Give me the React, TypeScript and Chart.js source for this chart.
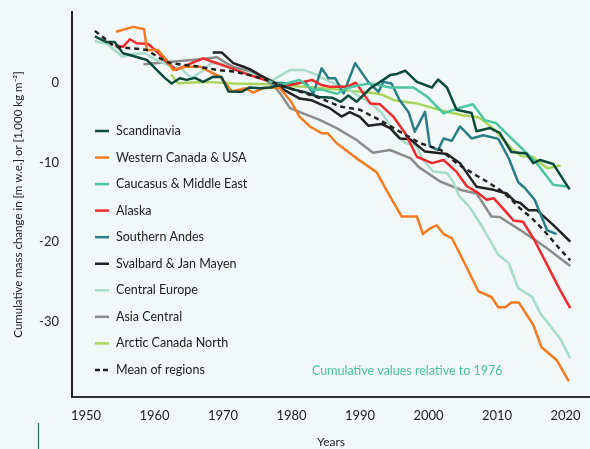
import React, { useEffect, useRef } from "react";
import { Chart, registerables } from "chart.js";

Chart.register(...registerables);

// ---------- data ----------
const xTickYears = [1950, 1960, 1970, 1980, 1990, 2000, 2010, 2020];
const yTickValues = [0, -10, -20, -30];

const scandinaviaYears = [1951.3, 1953.0, 1954.2, 1955.4, 1956.9, 1958.9, 1960.1, 1961.5, 1962.5, 1963.7, 1964.7, 1965.9, 1967.1, 1968.6, 1969.8, 1970.8, 1972.7, 1973.9, 1975.4, 1976.9, 1978.3, 1980.0, 1982.0, 1984.0, 1986.0, 1987.2, 1988.3, 1989.5, 1991.5, 1993.4, 1994.4, 1995.4, 1996.6, 1998.3, 2000.5, 2001.4, 2002.7, 2004.1, 2006.3, 2007.0, 2009.0, 2010.4, 2012.1, 2014.3, 2015.3, 2016.3, 2018.2, 2020.6];
const scandinaviaValues = [5.8, 5.1, 5.1, 3.7, 3.35, 2.85, 1.8, 0.6, -0.1, 0.55, 0.35, 0.6, 0.1, 0.75, 0.7, -1.1, -1.15, -0.6, -0.7, -0.6, -0.3, -0.8, -1.2, -1.8, -1.9, -2.4, -1.6, -2.4, -0.7, 0.35, 0.95, 1.1, 1.5, 0.1, -0.6, 0.4, -0.6, -3.4, -3.8, -6.1, -5.7, -6.3, -8.7, -8.9, -10.1, -9.7, -10.2, -13.4];

const westernCanadaYears = [1954.4, 1956.9, 1958.5, 1958.9, 1960.5, 1961.8, 1962.7, 1964.5, 1966.6, 1968.5, 1969.6, 1971.3, 1973.3, 1974.4, 1975.8, 1977.3, 1978.3, 1979.8, 1981.2, 1982.7, 1984.4, 1985.3, 1986.6, 1989.5, 1992.4, 1994.4, 1996.1, 1998.3, 1999.2, 2000.2, 2001.2, 2002.2, 2003.4, 2005.3, 2007.3, 2009.2, 2010.2, 2011.2, 2012.1, 2013.2, 2015.3, 2016.5, 2018.7, 2020.5];
const westernCanadaValues = [6.4, 7.0, 6.7, 4.1, 4.1, 2.8, 1.6, 2.0, 2.0, 1.2, 0.75, -1.1, -0.7, -1.25, -0.7, -0.6, -0.7, -2.2, -4.3, -5.5, -6.35, -6.35, -7.6, -9.5, -11.2, -14.3, -16.8, -16.8, -19.0, -18.3, -17.9, -19.0, -19.5, -22.7, -26.2, -26.9, -28.2, -28.2, -27.6, -27.6, -30.4, -33.2, -34.8, -37.5];

const caucasusYears = [1976.4, 1978.3, 1980.3, 1981.2, 1983.1, 1984.6, 1986.6, 1988.1, 1990.0, 1991.5, 1994.4, 1997.8, 1999.8, 2002.2, 2004.4, 2006.5, 2008.2, 2009.9, 2011.9, 2014.1, 2015.8, 2018.2, 2020.4];
const caucasusValues = [0.3, -0.3, 0.15, 0.35, -0.9, -0.9, -1.4, -0.7, -0.3, -0.1, -0.6, -0.6, -1.75, -3.85, -3.2, -2.7, -4.7, -5.1, -6.8, -8.65, -10.1, -12.8, -13.05];

const alaskaYears = [1954.2, 1955.4, 1956.4, 1957.4, 1959.1, 1960.6, 1962.0, 1963.2, 1964.7, 1967.1, 1968.6, 1971.3, 1973.9, 1977.3, 1978.8, 1980.8, 1983.0, 1984.4, 1985.6, 1988.1, 1989.4, 1991.5, 1992.9, 1994.9, 1996.6, 1998.3, 2000.5, 2002.2, 2004.1, 2005.6, 2007.0, 2008.5, 2009.5, 2010.9, 2012.4, 2013.8, 2015.3, 2017.7, 2019.2, 2020.7];
const alaskaValues = [4.7, 4.5, 5.45, 4.95, 4.85, 3.7, 2.4, 1.6, 2.2, 3.05, 2.6, 1.8, 0.95, 0.0, -0.5, -0.1, 0.35, -0.3, -0.5, -0.5, 0.0, -2.6, -2.7, -4.3, -6.35, -9.3, -10.1, -9.7, -11.2, -13.0, -13.7, -14.7, -14.5, -15.8, -17.3, -17.45, -19.5, -23.5, -26.0, -28.3];

const southernAndesYears = [1977.3, 1980.5, 1982.0, 1983.2, 1984.4, 1985.4, 1986.4, 1987.6, 1989.3, 1991.2, 1992.7, 1993.4, 1994.6, 1995.8, 1997.1, 1998.0, 1999.5, 2000.2, 2001.4, 2002.2, 2003.4, 2004.6, 2006.3, 2008.0, 2010.2, 2011.7, 2013.1, 2014.1, 2015.5, 2017.3, 2018.7];
const southernAndesValues = [0.0, -0.15, 0.1, -1.35, 1.8, 0.55, 0.55, -1.35, 2.45, 0.1, -1.15, 0.1, -0.1, -2.2, -3.7, -6.15, -3.65, -7.95, -8.45, -7.0, -7.3, -5.5, -7.0, -6.6, -7.05, -9.45, -12.5, -13.25, -14.7, -18.5, -19.0];

const svalbardYears = [1968.5, 1969.8, 1971.5, 1973.0, 1973.9, 1975.4, 1977.3, 1979.3, 1981.2, 1982.9, 1984.2, 1985.6, 1987.3, 1988.5, 1990.0, 1991.2, 1993.2, 1994.4, 1995.8, 1997.3, 1999.5, 2002.7, 2004.6, 2007.0, 2009.5, 2011.4, 2012.6, 2013.4, 2014.6, 2015.8, 2018.2, 2020.7];
const svalbardValues = [3.8, 3.8, 2.45, 2.0, 1.7, 0.95, 0.1, -1.1, -2.0, -2.2, -2.7, -3.2, -4.25, -3.7, -4.3, -5.4, -5.2, -5.7, -7.0, -7.1, -8.65, -8.95, -10.1, -13.05, -13.45, -13.9, -14.9, -15.1, -16.0, -16.0, -17.85, -19.95];

const centralEuropeYears = [1951.3, 1953.1, 1955.3, 1956.9, 1958.6, 1960.2, 1962.3, 1964.0, 1965.4, 1966.9, 1968.3, 1969.6, 1971.5, 1973.9, 1975.4, 1977.3, 1979.8, 1981.8, 1983.9, 1985.6, 1988.1, 1990.0, 1991.5, 1993.2, 1995.0, 1996.6, 1998.3, 1999.2, 2000.7, 2002.7, 2003.6, 2004.4, 2006.3, 2007.8, 2010.2, 2011.7, 2013.1, 2015.1, 2016.3, 2017.3, 2019.2, 2020.7];
const centralEuropeValues = [5.2, 4.85, 3.25, 3.6, 3.7, 2.85, 2.1, 1.7, 0.55, 1.4, 2.45, 2.45, 1.6, 1.2, 0.55, 0.35, 1.6, 1.6, 0.9, 0.1, -0.7, -1.8, -2.55, -3.8, -6.15, -7.55, -8.0, -9.7, -11.15, -11.35, -12.4, -14.1, -15.95, -18.05, -21.6, -22.65, -25.8, -26.85, -28.9, -30.0, -32.1, -34.6];

const asiaCentralYears = [1958.4, 1966.6, 1969.1, 1970.5, 1971.5, 1973.9, 1975.4, 1977.3, 1978.3, 1979.8, 1981.7, 1984.2, 1986.6, 1989.5, 1991.9, 1994.4, 1997.4, 1998.6, 2001.7, 2004.9, 2007.0, 2009.2, 2010.4, 2013.4, 2017.0, 2020.7];
const asiaCentralValues = [2.3, 2.95, 3.2, 2.45, 2.0, 1.4, 0.75, -0.3, -1.3, -3.2, -3.85, -4.7, -5.7, -7.2, -8.8, -8.45, -9.5, -10.6, -12.4, -13.5, -13.9, -16.8, -16.85, -18.5, -20.6, -23.0];

const arcticCanadaYears = [1962.4, 1963.5, 1964.7, 1967.6, 1971.5, 1976.4, 1978.3, 1982.2, 1987.1, 1991.9, 1993.4, 1994.9, 1998.3, 2000.7, 2002.7, 2005.0, 2007.3, 2008.5, 2010.0, 2012.1, 2013.6, 2015.2, 2017.3, 2019.3];
const arcticCanadaValues = [1.0, -0.1, 0.0, 0.1, -0.1, -0.2, -0.4, -0.5, -0.9, -1.3, -1.55, -2.2, -2.6, -3.2, -3.65, -4.1, -4.35, -5.1, -6.2, -8.25, -9.25, -9.3, -10.75, -10.4];

const meanYears = [1951.3, 1952.5, 1954.2, 1956.9, 1958.9, 1960.8, 1962.3, 1964.7, 1966.6, 1969.1, 1971.5, 1973.9, 1976.4, 1978.3, 1981.2, 1984.2, 1987.1, 1990.0, 1992.9, 1995.8, 1998.8, 2001.8, 2004.1, 2006.5, 2008.5, 2010.4, 2011.9, 2013.4, 2015.1, 2016.8, 2018.7, 2020.7];
const meanValues = [6.5, 5.7, 4.5, 4.3, 4.1, 3.05, 2.45, 2.2, 2.0, 1.6, 1.4, 0.95, 0.35, -0.3, -1.1, -1.95, -3.0, -3.4, -4.7, -6.15, -7.6, -8.45, -10.1, -11.4, -12.4, -13.45, -14.5, -15.8, -17.0, -18.5, -20.4, -22.3];

const seriesLabels = [
  "Scandinavia",
  "Western Canada & USA",
  "Caucasus & Middle East",
  "Alaska",
  "Southern Andes",
  "Svalbard & Jan Mayen",
  "Central Europe",
  "Asia Central",
  "Arctic Canada North",
  "Mean of regions",
];
const seriesColors = [
  "#0c4a3c",
  "#f47b20",
  "#4cc6a0",
  "#ee2a2f",
  "#2b7d87",
  "#222222",
  "#a7dcc9",
  "#8c8c8c",
  "#a9d55b",
  "#222222",
];
const seriesYears = [scandinaviaYears, westernCanadaYears, caucasusYears, alaskaYears, southernAndesYears, svalbardYears, centralEuropeYears, asiaCentralYears, arcticCanadaYears, meanYears];
const seriesValues = [scandinaviaValues, westernCanadaValues, caucasusValues, alaskaValues, southernAndesValues, svalbardValues, centralEuropeValues, asiaCentralValues, arcticCanadaValues, meanValues];

const FONT = "Lato, 'Noto Sans', sans-serif";
const TEXT = "#222222";
const BG = "#f1f8f7";

const insideLegend = {
  id: "insideLegend",
  afterDraw(chart: any) {
    const { ctx, chartArea } = chart;
    ctx.save();
    const x0 = chartArea.left + 23;
    const x1 = chartArea.left + 37;
    const tx = chartArea.left + 44;
    const y0 = chartArea.top + 119;
    const step = 26.55;
    ctx.font = `12.5px ${FONT}`;
    ctx.textBaseline = "middle";
    ctx.textAlign = "left";
    chart.data.datasets.forEach((ds: any, i: number) => {
      const y = y0 + i * step;
      ctx.strokeStyle = ds.borderColor;
      ctx.lineWidth = 2.5;
      ctx.setLineDash(ds.borderDash && ds.borderDash.length ? [5, 3] : []);
      ctx.beginPath();
      ctx.moveTo(x0, y);
      ctx.lineTo(x1, y);
      ctx.stroke();
      ctx.setLineDash([]);
      ctx.fillStyle = TEXT;
      ctx.fillText(ds.label, tx, y);
    });
    // note
    ctx.fillStyle = "#4cc49c";
    ctx.font = `12.5px ${FONT}`;
    ctx.fillText("Cumulative values relative to 1976", chartArea.left + 240, chartArea.top + 359);
    // small decorative mark
    ctx.strokeStyle = "#2d6e69";
    ctx.lineWidth = 1.2;
    ctx.beginPath();
    ctx.moveTo(38.5, 423);
    ctx.lineTo(38.5, chart.height);
    ctx.stroke();
    ctx.restore();
  },
};

export default function App() {
  const ref = useRef<HTMLCanvasElement>(null);
  useEffect(() => {
    document.body.style.margin = "0";
    document.body.style.background = BG;
    const canvas = ref.current!;
    const datasets = seriesLabels.map((label, i) => ({
      label,
      data: seriesYears[i].map((yr, j) => ({ x: yr, y: seriesValues[i][j] })),
      borderColor: seriesColors[i],
      backgroundColor: seriesColors[i],
      borderWidth: 2.5,
      borderDash: i === seriesLabels.length - 1 ? [5, 4] : [],
      pointRadius: 0,
      tension: 0,
      fill: false,
      borderJoinStyle: "round" as const,
      order: i === seriesLabels.length - 1 ? 0 : 1,
    }));
    const chart = new Chart(canvas, {
      type: "line",
      data: { datasets },
      options: {
        animation: false,
        responsive: false,
        maintainAspectRatio: false,
        layout: { padding: { top: 12, left: 0, right: 0, bottom: 0 } },
        plugins: { legend: { display: false }, tooltip: { enabled: false } },
        scales: {
          x: {
            type: "linear",
            min: 1947.96,
            max: 2023.58,
            grid: { display: false, drawTicks: false },
            border: { display: true, color: "#333333", width: 2 },
            afterBuildTicks: (scale: any) => {
              scale.ticks = xTickYears.map((v) => ({ value: v }));
            },
            afterFit: (scale: any) => {
              scale.height = 52;
              scale.paddingLeft = 0;
              scale.paddingRight = 0;
            },
            ticks: {
              color: TEXT,
              font: { family: FONT, size: 13 },
              padding: 11,
              maxRotation: 0,
              autoSkip: false,
              callback: (v: any) => String(v),
            },
            title: {
              display: true,
              text: "Years",
              color: TEXT,
              font: { family: FONT, size: 12 },
              padding: { top: 0, bottom: 0 },
            },
          },
          y: {
            type: "linear",
            min: -39.45,
            max: 8.87,
            grid: { display: false, drawTicks: false },
            border: { display: true, color: "#222222", width: 2 },
            afterBuildTicks: (scale: any) => {
              scale.ticks = yTickValues.map((v) => ({ value: v }));
            },
            afterFit: (scale: any) => {
              scale.width = 72;
              scale.paddingTop = 0;
              scale.paddingBottom = 0;
            },
            ticks: {
              color: TEXT,
              font: { family: FONT, size: 13 },
              padding: 13,
              autoSkip: false,
              callback: (v: any) => String(v),
            },
            title: {
              display: true,
              text: "Cumulative mass change in [m w.e.] or [1,000 kg m\u207B\u00B2]",
              color: TEXT,
              font: { family: FONT, size: 11.5 },
              padding: { top: 11, bottom: 0 },
            },
          },
        },
      },
      plugins: [insideLegend],
    });
    return () => chart.destroy();
  }, []);
  return (
    <div style={{ width: 590, height: 449, background: BG }}>
      <canvas ref={ref} width={590} height={449} style={{ display: "block" }} />
    </div>
  );
}
